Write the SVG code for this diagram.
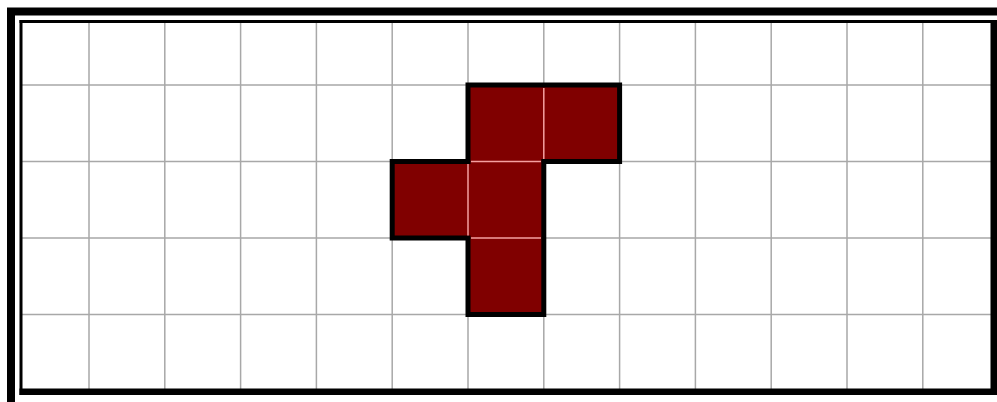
<svg xmlns="http://www.w3.org/2000/svg" width="997" height="402" viewBox="0 0 997 402">
<style>
.grid{stroke:#a8a8a8;stroke-width:1.5;fill:none}
.cellsep{stroke:#f4a0a0;stroke-width:1.5;fill:none}
</style>
<rect x="0" y="0" width="997" height="402" fill="#ffffff"/>
<g id="frame">
<rect x="11" y="11.5" width="1010" height="420" fill="none" stroke="#000" stroke-width="8"/>
</g>
<g id="grid" class="grid">
<path d="M89 22V391M164.8 22V391M240.6 22V391M316.4 22V391M392.2 22V391M468 22V391M543.8 22V391M619.6 22V391M695.4 22V391M771.2 22V391M847 22V391M922.8 22V391"/>
<path d="M21 85H991M21 161.5H991M21 238H991M21 314.5H991"/>
</g>
<g id="inner-frame">
<rect x="19.5" y="20" width="3" height="375" fill="#000"/>
<rect x="19.5" y="20" width="978" height="3" fill="#000"/>
<rect x="990.5" y="20" width="7" height="375" fill="#000"/>
<rect x="19.5" y="388.5" width="978" height="6.5" fill="#000"/>
</g>
<g id="shape">
<path d="M468 85H619.6V161.5H543.8V314.5H468V238H392.2V161.5H468Z" fill="#800000" stroke="#000" stroke-width="5" stroke-linejoin="miter"/>
<path class="cellsep" d="M543.8 88V159M471 161.5H541M468 164V235.5M471 238H541"/>
</g>
</svg>
